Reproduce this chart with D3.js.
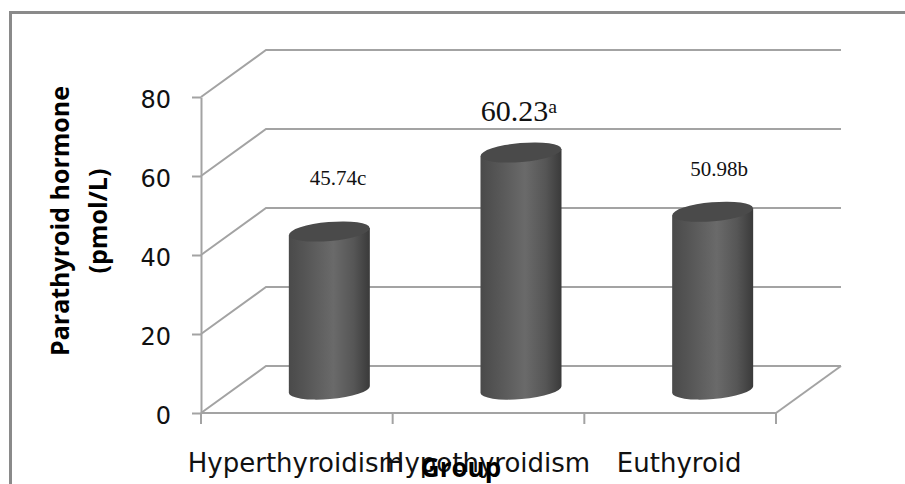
<!DOCTYPE html>
<html><head><meta charset="utf-8">
<script src="https://cdn.jsdelivr.net/npm/d3@7"></script>
<style>
html,body{margin:0;padding:0;background:#fff}
svg{display:block}
</style></head><body>
<svg id="c" width="905" height="484"></svg>
<script>
const categories = ["Hyperthyroidism","Hypothyroidism","Euthyroid"];
const barValues = [40,60,45];
const barLabels = ["45.74c","60.23","50.98b"];
const labelSup = ["","a",""];
const yTicks = [0,20,40,60,80];
const yTitle = ["Parathyroid hormone","(pmol/L)"];
const xTitle = "Group";

const svg = d3.select("#c");
const grey = "#a3a3a3";
const y = d3.scaleLinear().domain([0,80]).range([413,97]);
const x = d3.scaleBand().domain(categories).range([201,776]);
const dx = 65, dy = -47;
const barW = 81, rx = barW/2, ry = 9.5, tilt = 3.5;

const defs = svg.append("defs");
const g = defs.append("linearGradient").attr("id","cyl");
[[0,"#4a4a4a"],[0.2,"#555555"],[0.55,"#6a6a6a"],[0.8,"#565656"],[1,"#3a3a3a"]]
 .forEach(s=>g.append("stop").attr("offset",s[0]).attr("stop-color",s[1]));

// outer frame
svg.append("path").attr("d","M10.5,484V12.5H905").attr("fill","none").attr("stroke","#8a8a8a").attr("stroke-width",3);

// back wall gridlines with side-wall diagonals
const grid = svg.append("g").attr("fill","none").attr("stroke",grey).attr("stroke-width",2);
grid.selectAll("path").data(yTicks).join("path")
  .attr("d",d=>`M${x.range()[0]},${y(d)}L${x.range()[0]+dx},${y(d)+dy}H${x.range()[1]+dx}`);
// floor right edge
grid.append("path").attr("d",`M${x.range()[1]},${y(0)}L${x.range()[1]+dx},${y(0)+dy}`);

// y axis
const yAxis = svg.append("g").attr("transform",`translate(${x.range()[0]},0)`)
  .call(d3.axisLeft(y).tickValues(yTicks).tickSize(9).tickSizeOuter(0));
yAxis.selectAll("path,line").attr("stroke",grey).attr("stroke-width",2);
yAxis.selectAll("text").attr("font-family","'DejaVu Sans'").attr("font-size",24).attr("fill","#111").attr("dx",-18).attr("dy","0.44em");

// x axis
const ticksX = [...categories.map(c=>x(c)), x.range()[1]];
const xA = svg.append("g");
xA.append("path").attr("d",`M${x.range()[0]},${y(0)}H${x.range()[1]}`).attr("stroke",grey).attr("stroke-width",2);
xA.selectAll("line").data(ticksX).join("line")
  .attr("x1",d=>d).attr("x2",d=>d).attr("y1",y(0)).attr("y2",y(0)+11).attr("stroke",grey).attr("stroke-width",2);
xA.selectAll("text").data(categories).join("text")
  .attr("x",d=>x(d)+x.bandwidth()/2-1).attr("y",472).attr("text-anchor","middle")
  .attr("font-family","'DejaVu Sans'").attr("font-size",26).attr("fill","#111").text(d=>d);

// cylinders
const baseY = y(0)+dy/2;
const bars = svg.append("g").selectAll("g").data(categories).join("g");
const cylX = c => x(c)+x.bandwidth()/2+dx/2;
const cylTop = v => y(v)+dy/2;
bars.append("path").attr("fill","url(#cyl)").attr("d",(c,i)=>{
  const L=cylX(c)-rx,R=cylX(c)+rx,T=cylTop(barValues[i]);
  return `M${L},${T+tilt}L${L},${baseY+tilt}A${rx},${ry} -5 0 0 ${R},${baseY-tilt}L${R},${T-tilt}Z`;
});
bars.append("ellipse").attr("fill","#4a4a4a")
  .attr("rx",rx).attr("ry",ry)
  .attr("transform",(c,i)=>`translate(${cylX(c)},${cylTop(barValues[i])}) rotate(-5)`);

// data labels
const labelPos = [[338,185,21],[519,121,30],[719,176,21]];
barLabels.forEach((t,i)=>{
  const p = labelPos[i];
  const el = svg.append("text").attr("x",p[0]).attr("y",p[1]).attr("text-anchor","middle")
    .attr("font-family","'Liberation Serif'").attr("font-size",p[2]).attr("fill","#111").text(t);
  if(labelSup[i]) el.append("tspan").attr("font-size",p[2]*0.66).attr("dy",-8).text(labelSup[i]);
});

// axis titles
svg.append("g").selectAll("text").data(yTitle).join("text")
  .attr("transform",(d,i)=>`translate(${69+i*38},221) rotate(-90)`)
  .attr("text-anchor","middle").attr("font-family","'Open Sans'").attr("font-weight",700)
  .attr("font-size",25).attr("fill","#000").text(d=>d);
svg.append("text").attr("x",461).attr("y",477).attr("text-anchor","middle")
  .attr("font-family","'Open Sans'").attr("font-weight",700).attr("font-size",26).attr("fill","#000").text(xTitle);
</script>
</body></html>
